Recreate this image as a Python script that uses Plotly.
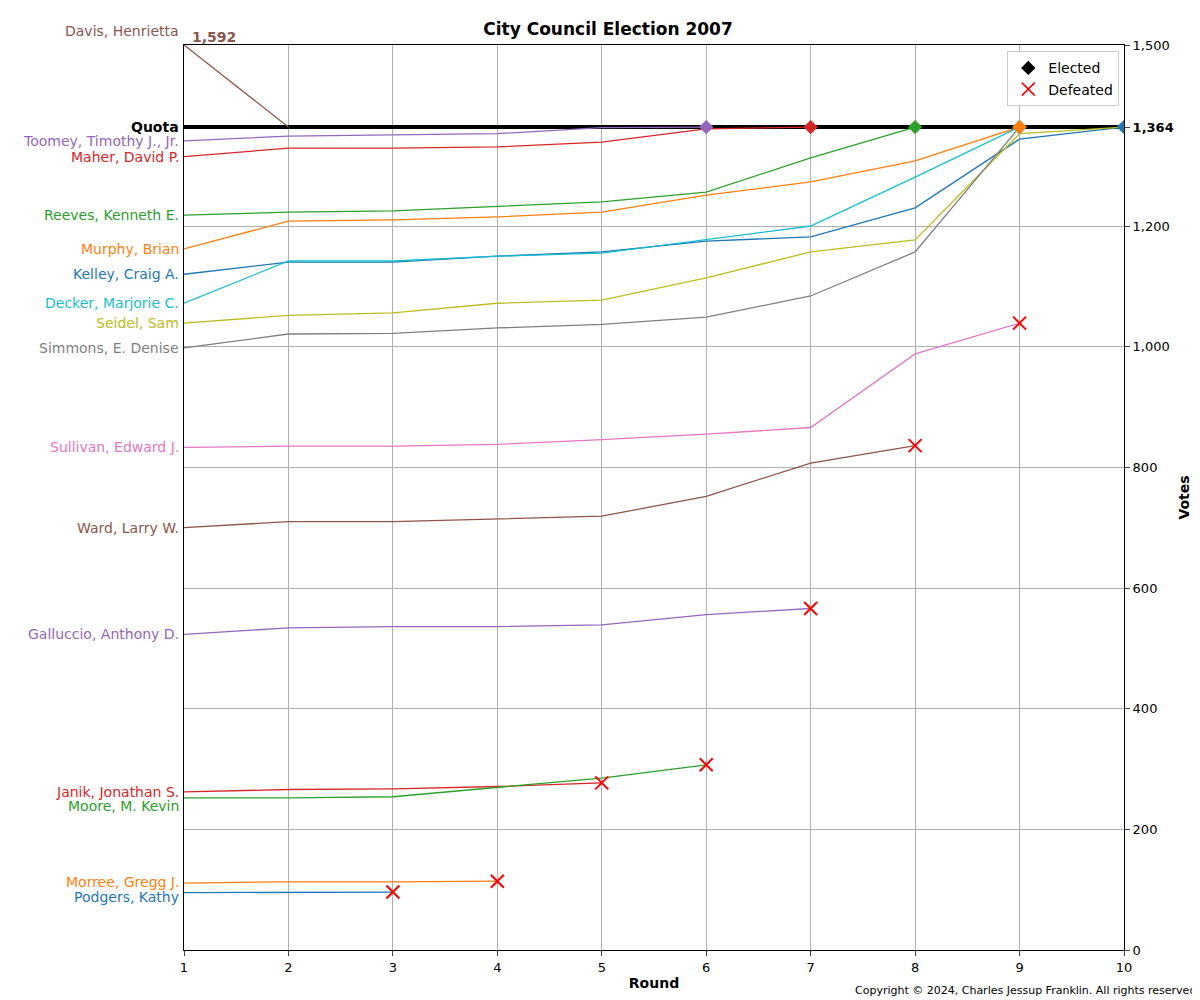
import plotly.graph_objects as go

# Election data (votes per round)
rounds = list(range(1, 11))
quota = 1364

candidates = [
    "Davis, Henrietta", "Toomey, Timothy J., Jr.", "Maher, David P.", "Reeves, Kenneth E.",
    "Murphy, Brian", "Kelley, Craig A.", "Decker, Marjorie C.", "Seidel, Sam",
    "Simmons, E. Denise", "Sullivan, Edward J.", "Ward, Larry W.", "Galluccio, Anthony D.",
    "Janik, Jonathan S.", "Moore, M. Kevin", "Morree, Gregg J.", "Podgers, Kathy",
]
colors = [
    "#8c564b", "#9467bd", "#d62728", "#2ca02c", "#ff7f0e", "#1f77b4", "#17becf", "#bcbd22",
    "#7f7f7f", "#e377c2", "#8c564b", "#9467bd", "#d62728", "#2ca02c", "#ff7f0e", "#1f77b4",
]
votes = [
    [1592, 1364],
    [1341, 1349, 1351, 1353, 1363, 1364],
    [1315, 1329, 1329, 1331, 1339, 1361, 1364],
    [1218, 1223, 1225, 1233, 1240, 1256, 1313, 1364],
    [1162, 1208, 1210, 1215, 1223, 1251, 1273, 1308, 1364],
    [1120, 1140, 1140, 1150, 1157, 1175, 1182, 1230, 1344, 1364],
    [1072, 1142, 1142, 1150, 1155, 1178, 1200, 1281, 1364],
    [1039, 1052, 1056, 1072, 1077, 1114, 1157, 1177, 1353, 1364],
    [998, 1021, 1022, 1031, 1037, 1049, 1084, 1157, 1364],
    [833, 835, 835, 838, 846, 855, 866, 988, 1039],
    [700, 710, 710, 714, 719, 752, 807, 836],
    [523, 534, 536, 536, 539, 556, 566],
    [262, 266, 267, 271, 277],
    [252, 252, 254, 269, 285, 307],
    [111, 113, 113, 114],
    [95, 95, 96],
]
elected = [True, True, True, True, True, True, True, True, True,
           False, False, False, False, False, False, False]
# pixel nudges for the left-hand name labels
label_shift = {"Davis, Henrietta": 14, "Moore, M. Kevin": -8, "Podgers, Kathy": -4, "Morree, Gregg J.": 1}
y_max = 1500
tickvals = [0, 200, 400, 600, 800, 1000, 1200, quota, 1500]
ticktext = ["0", "200", "400", "600", "800", "1,000", "1,200", "<b>1,364</b>", "1,500"]

fig = go.Figure()

fig.add_trace(go.Scatter(x=[1, 10], y=[quota, quota], mode="lines",
                         line=dict(color="black", width=4), showlegend=False, hoverinfo="skip"))

annotations = []
for i, name in enumerate(candidates):
    col, v = colors[i], votes[i]
    vy = [min(a, y_max) for a in v]
    xs = rounds[:len(v)]
    fig.add_trace(go.Scatter(x=xs, y=vy, mode="lines", line=dict(color=col, width=1.3),
                             name=name, showlegend=False))
    annotations.append(dict(x=1, y=vy[0], text=name, xref="x", yref="y", showarrow=False,
                            xanchor="right", xshift=-3, yshift=label_shift.get(name, 0),
                            font=dict(color=col, size=14)))

# end markers, drawn in reverse so earlier candidates sit on top
for i in reversed(range(1, len(candidates))):
    col, v = colors[i], votes[i]
    x_end, y_end = len(v), min(v[-1], y_max)
    if elected[i]:
        mk = dict(symbol="diamond", size=11, color=col)
    else:
        mk = dict(symbol="x-thin", size=13, color="red", line=dict(color="red", width=2))
    fig.add_trace(go.Scatter(x=[x_end], y=[y_end], mode="markers", marker=mk,
                             showlegend=False, hoverinfo="skip"))

# legend entries
fig.add_trace(go.Scatter(x=[None], y=[None], mode="markers", name="Elected",
                         marker=dict(symbol="diamond", size=11, color="black")))
fig.add_trace(go.Scatter(x=[None], y=[None], mode="markers", name="Defeated",
                         marker=dict(symbol="x-thin", size=13, color="red",
                                     line=dict(color="red", width=1.5))))

annotations += [
    dict(x=1, y=y_max, text="<b>1,592</b>", showarrow=False, xanchor="left", xshift=6,
         yshift=8, font=dict(color="#8c564b", size=14)),
    dict(x=1, y=quota, text="<b>Quota</b>", showarrow=False, xanchor="right", xshift=-3,
         font=dict(color="black", size=14)),
    dict(x=1.0, y=0, xref="paper", yref="paper", text="Copyright © 2024, Charles Jessup Franklin. All rights reserved",
         showarrow=False, xanchor="right", yanchor="top", xshift=74, yshift=-32,
         font=dict(size=11, color="black")),
]

fig.update_layout(
    title=dict(text="<b>City Council Election 2007</b>", x=0.5, xanchor="center",
               y=0.985, font=dict(size=17, color="black")),
    width=1200, height=1000,
    margin=dict(l=176, r=84, t=37, b=58, autoexpand=False),
    plot_bgcolor="white", paper_bgcolor="white",
    font=dict(family="DejaVu Sans", size=13, color="black"),
    annotations=annotations,
    legend=dict(x=0.995, y=0.993, xanchor="right", yanchor="top", bordercolor="#cccccc",
                borderwidth=1, bgcolor="white", font=dict(size=14)),
    xaxis=dict(range=[1, 10], tickvals=rounds, showgrid=True, gridcolor="#b0b0b0",
               title=dict(text="<b>Round</b>", standoff=4, font=dict(size=14)), showline=True,
               linecolor="black", mirror=True, ticks="outside", zeroline=False, automargin=False),
    yaxis=dict(range=[0, y_max], side="right", tickvals=tickvals, ticktext=ticktext,
               showgrid=True, gridcolor="#b0b0b0", title=dict(text="<b>Votes</b>", standoff=6, font=dict(size=14)),
               showline=True, linecolor="black", mirror=True, ticks="outside", zeroline=False,
               automargin=False),
)

fig.write_html("out.html")
